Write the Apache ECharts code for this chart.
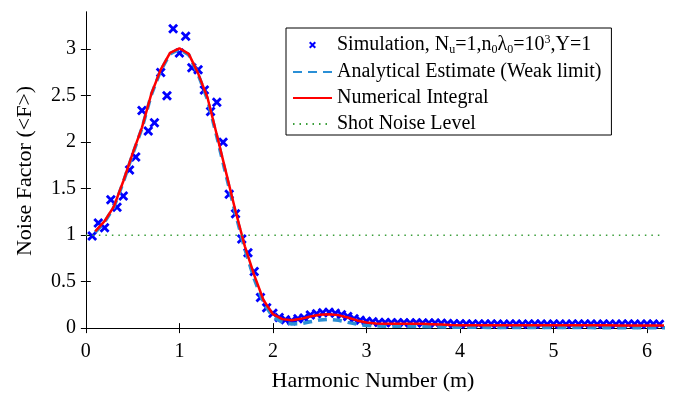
<!DOCTYPE html>
<html>
<head>
<meta charset="utf-8">
<script src="https://cdn.jsdelivr.net/npm/echarts@6/dist/echarts.min.js"></script>
<style>html,body{margin:0;padding:0;background:#fff}#c{width:683px;height:397px}</style>
</head>
<body>
<div id="c"></div>
<script>
// ---- data ----
const simX = [0.067,0.133,0.2,0.267,0.333,0.4,0.467,0.533,0.6,0.667,0.733,0.8,0.867,0.933,1.0,1.067,1.133,1.2,1.267,1.333,1.4,1.467,1.533,1.6,1.667,1.733,1.8,1.867,1.933,2.0,2.067,2.133,2.2,2.267,2.333,2.4,2.467,2.533,2.6,2.667,2.733,2.8,2.867,2.933,3.0,3.067,3.133,3.2,3.267,3.333,3.4,3.467,3.533,3.6,3.667,3.733,3.8,3.867,3.933,4.0,4.067,4.133,4.2,4.267,4.333,4.4,4.467,4.533,4.6,4.667,4.733,4.8,4.867,4.933,5.0,5.067,5.133,5.2,5.267,5.333,5.4,5.467,5.533,5.6,5.667,5.733,5.8,5.867,5.933,6.0,6.067,6.133];
const simY = [0.99,1.13,1.08,1.38,1.30,1.42,1.70,1.84,2.34,2.12,2.21,2.75,2.50,3.22,2.96,3.14,2.80,2.78,2.56,2.33,2.43,2.00,1.44,1.23,0.96,0.81,0.61,0.33,0.22,0.16,0.115,0.09,0.08,0.10,0.11,0.14,0.155,0.165,0.17,0.16,0.145,0.125,0.10,0.085,0.075,0.068,0.062,0.06,0.058,0.057,0.058,0.056,0.057,0.056,0.055,0.054,0.052,0.05,0.048,0.046,0.045,0.044,0.045,0.044,0.044,0.045,0.043,0.044,0.044,0.043,0.044,0.045,0.044,0.043,0.044,0.044,0.043,0.044,0.044,0.045,0.044,0.043,0.044,0.044,0.043,0.044,0.044,0.045,0.043,0.044,0.044,0.043];
const curveX = [0.1,0.2,0.3,0.4,0.5,0.6,0.7,0.8,0.9,1.0,1.1,1.2,1.3,1.4,1.5,1.6,1.7,1.8,1.9,2.0,2.1,2.2,2.3,2.4,2.5,2.6,2.7,2.8,2.9,3.0,3.1,3.2,3.3,3.4,3.5,3.6,3.7,3.8,3.9,4.0,4.1,4.2,4.3,4.4,4.5,4.6,4.7,4.8,4.9,5.0,5.1,5.2,5.3,5.4,5.5,5.6,5.7,5.8,5.9,6.0,6.1,6.2];
const analyticalY = [1.03,1.14,1.30,1.57,1.87,2.15,2.51,2.77,2.95,3.00,2.94,2.73,2.46,2.06,1.64,1.23,0.85,0.53,0.27,0.12,0.065,0.045,0.048,0.068,0.088,0.095,0.085,0.062,0.042,0.028,0.022,0.020,0.019,0.019,0.018,0.017,0.015,0.013,0.011,0.010,0.009,0.009,0.008,0.008,0.008,0.007,0.007,0.007,0.007,0.006,0.006,0.006,0.006,0.006,0.005,0.005,0.005,0.005,0.005,0.005,0.005,0.005];
const numericalY = [1.04,1.15,1.31,1.58,1.88,2.16,2.52,2.78,2.96,3.01,2.95,2.74,2.48,2.08,1.67,1.26,0.88,0.57,0.30,0.15,0.097,0.086,0.10,0.125,0.143,0.15,0.14,0.115,0.083,0.060,0.050,0.047,0.046,0.047,0.048,0.046,0.043,0.039,0.035,0.032,0.031,0.031,0.031,0.032,0.032,0.031,0.030,0.030,0.030,0.031,0.031,0.030,0.030,0.030,0.030,0.030,0.029,0.029,0.029,0.029,0.029,0.029];
const shotX = [0, 6.2];
const shotY = [1, 1];
const xTicks = [0,1,2,3,4,5,6];
const yTicks = [0,0.5,1,1.5,2,2.5,3];
const names = ['Simulation', 'Analytical Estimate (Weak limit)', 'Numerical Integral', 'Shot Noise Level'];

const zip = (xs, ys) => xs.map((x, i) => [x, ys[i]]);
const FONT = 'Liberation Serif';
const xMark = 'path://M2,0L5,3L8,0L10,2L7,5L10,8L8,10L5,7L2,10L0,8L3,5L0,2Z';
const xMarkLegend = 'path://M0,0M20,20M7,5L10,8L13,5L15,7L12,10L15,13L13,15L10,12L7,15L5,13L8,10L5,7Z';
const hideSym = {opacity: 0, color: 'rgba(0,0,0,0)', borderWidth: 0};

const chart = echarts.init(document.getElementById('c'), null, {renderer: 'canvas'});
const boxAxis = {
  type: 'value', min: -0.02, max: 6.16,
  axisLine: {show: true, lineStyle: {color: '#000', width: 1}},
  splitLine: {show: false}
};
chart.setOption({
  animation: false,
  backgroundColor: '#fff',
  grid: {left: 84, right: 21, top: 12, bottom: 67},
  legend: {
    orient: 'vertical', left: 286, top: 28,
    selectedMode: false,
    backgroundColor: '#fff', borderColor: '#000', borderWidth: 1, borderRadius: 0,
    padding: [6, 10, 1, 6],
    itemWidth: 39, itemHeight: 14, itemGap: 6,
    data: [
      {name: names[0], icon: xMarkLegend},
      {name: names[1], itemStyle: hideSym},
      {name: names[2], itemStyle: hideSym},
      {name: names[3], itemStyle: hideSym}
    ],
    formatter: function (name) {
      if (name === names[0]) {
        return '{n|Simulation, N}{sub|u}{n|=1,n}{sub|0}{n|λ}{sub|0}{n|=10}{sup|3}{n|,Y=1}';
      }
      return '{n|' + name + '}';
    },
    textStyle: {
      fontFamily: FONT, fontSize: 20, color: '#000',
      rich: {
        n: {fontFamily: FONT, fontSize: 20, lineHeight: 22, color: '#000'},
        sub: {fontFamily: FONT, fontSize: 12, lineHeight: 12, verticalAlign: 'bottom', color: '#000'},
        sup: {fontFamily: FONT, fontSize: 12, lineHeight: 12, verticalAlign: 'top', color: '#000'}
      }
    }
  },
  xAxis: [
    Object.assign({}, boxAxis, {
      position: 'bottom',
      axisTick: {show: true, inside: true, length: 5, customValues: xTicks, lineStyle: {color: '#000'}},
      axisLabel: {show: true, customValues: xTicks, fontFamily: FONT, fontSize: 20, color: '#000', margin: 12},
      name: 'Harmonic Number (m)', nameLocation: 'middle', nameGap: 40,
      nameTextStyle: {fontFamily: FONT, fontSize: 22, color: '#000'}
    }),
    Object.assign({}, boxAxis, {
      position: 'top',
      axisTick: {show: true, inside: true, length: 5, customValues: xTicks, lineStyle: {color: '#000'}},
      axisLabel: {show: false}
    })
  ],
  yAxis: [
    {
      type: 'value', min: -0.02, max: 3.4, position: 'left',
      axisLine: {show: true, lineStyle: {color: '#000', width: 1}},
      splitLine: {show: false},
      axisTick: {show: true, inside: true, length: 5, customValues: yTicks, lineStyle: {color: '#000'}},
      axisLabel: {show: true, customValues: yTicks, fontFamily: FONT, fontSize: 20, color: '#000', margin: 8},
      name: 'Noise Factor (<F>)', nameLocation: 'middle', nameGap: 48,
      nameTextStyle: {fontFamily: FONT, fontSize: 22, color: '#000'}
    },
    {
      type: 'value', min: -0.02, max: 3.4, position: 'right',
      axisLine: {show: true, lineStyle: {color: '#000', width: 1}},
      splitLine: {show: false},
      axisTick: {show: true, inside: true, length: 5, customValues: yTicks, lineStyle: {color: '#000'}},
      axisLabel: {show: false}
    }
  ],
  series: [
    {
      name: names[0], type: 'scatter', xAxisIndex: 0, yAxisIndex: 0,
      data: zip(simX, simY), symbol: xMark, symbolSize: 10,
      itemStyle: {color: '#0000ff', opacity: 1}, z: 2
    },
    {
      name: names[1], type: 'line', xAxisIndex: 0, yAxisIndex: 0,
      data: zip(curveX, analyticalY), showSymbol: false, symbol: 'none',
      itemStyle: {color: '#2a8fd6'},
      lineStyle: {color: '#2a8fd6', width: 3.5, type: [9, 6]}, z: 3
    },
    {
      name: names[2], type: 'line', xAxisIndex: 0, yAxisIndex: 0,
      data: zip(curveX, numericalY), showSymbol: false, symbol: 'none',
      itemStyle: {color: '#ff0000'},
      lineStyle: {color: '#ff0000', width: 2.5}, z: 4
    },
    {
      name: names[3], type: 'line', xAxisIndex: 0, yAxisIndex: 0,
      data: zip(shotX, shotY), showSymbol: false, symbol: 'none',
      itemStyle: {color: '#3a9e3a'},
      lineStyle: {color: '#3a9e3a', width: 1.5, type: [1.5, 5]}, z: 5
    }
  ]
});
</script>
</body>
</html>
